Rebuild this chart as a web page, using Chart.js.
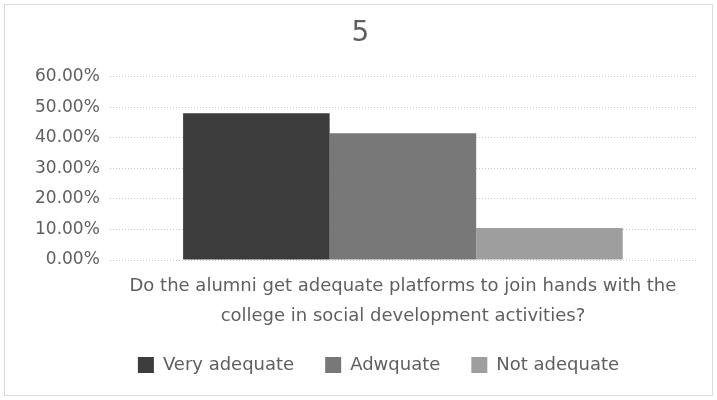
<!DOCTYPE html>
<html>
<head>
<meta charset="utf-8">
<script src="https://cdn.jsdelivr.net/npm/chart.js@4"></script>
<style>
  html, body { margin: 0; padding: 0; background: #fff; }
  #wrap { position: absolute; left: 4px; top: 4px; width: 709px; height: 392px; border: 1px solid #d9d9d9; box-sizing: border-box; }
</style>
</head>
<body>
<div id="wrap"><canvas id="chart"></canvas></div>
<script>
// question (category) and answer shares in percent
const categories = [['Do the alumni get adequate platforms to join hands with the', 'college in social development activities?']]
const seriesNames = ['Very adequate', 'Adwquate', 'Not adequate']
const seriesValues = [[48.0], [41.5], [10.5]]
const seriesColors = ['#3c3c3c', '#787878', '#9e9e9e']

const font = "'DejaVu Sans', sans-serif"
const grey = '#5f5f5f'

// legend sits a little right of the middle (and tucked up) in the original
const legendShift = {
  id: 'legendShift',
  afterLayout (chart) {
    chart.legend.left += 18
    chart.legend.right += 18
    chart.legend.top -= 5
    chart.legend.bottom -= 5
  }
}

// eslint-disable-next-line no-unused-vars
const barChart = new Chart(document.getElementById('chart'), {
  type: 'bar',
  data: {
    labels: categories,
    datasets: seriesNames.map((name, i) => ({
      label: name,
      data: seriesValues[i],
      backgroundColor: seriesColors[i],
      borderWidth: 0,
      barPercentage: 1.0,
      categoryPercentage: 0.75
    }))
  },
  plugins: [legendShift],
  options: {
    responsive: true,
    maintainAspectRatio: false,
    animation: false,
    layout: { padding: { left: 20, right: 16, top: 8, bottom: 6 } },
    plugins: {
      title: {
        display: true,
        text: '5',
        color: grey,
        font: { family: font, size: 28, weight: 'normal' },
        padding: { top: 4, bottom: 26 }
      },
      legend: {
        position: 'bottom',
        labels: {
          color: grey,
          font: { family: font, size: 18 },
          boxWidth: 16,
          boxHeight: 16,
          padding: 31
        }
      },
      tooltip: { enabled: false }
    },
    scales: {
      y: {
        min: 0,
        max: 60,
        ticks: {
          stepSize: 10,
          color: grey,
          font: { family: font, size: 17 },
          padding: 10,
          callback: v => v.toFixed(2) + '%'
        },
        grid: { color: '#c8c8c8', lineWidth: 1, tickLength: 0 },
        border: { display: false, dash: [1, 2] }
      },
      x: {
        ticks: {
          color: grey,
          font: { family: font, size: 18, lineHeight: 1.667 },
          padding: 3
        },
        grid: { display: false },
        border: { display: false },
        afterFit: scale => { scale.height = 70 }
      }
    }
  }
})
</script>
</body>
</html>
